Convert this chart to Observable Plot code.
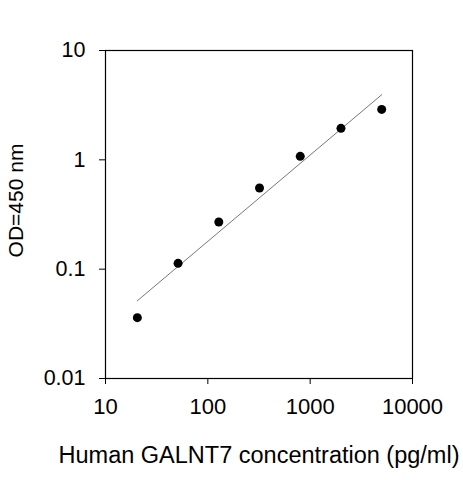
<!DOCTYPE html>
<html>
<head>
<meta charset="utf-8">
<script src="https://cdn.jsdelivr.net/npm/d3@7"></script>
<script src="https://cdn.jsdelivr.net/npm/@observablehq/plot@0.6"></script>
<style>
  body { margin: 0; background: #fff; }
  #plot svg { display: block; }
</style>
</head>
<body>
<div id="plot"></div>
<script>
// standard curve points (concentration pg/ml, OD 450 nm)
const conc = [20.48, 51.2, 128, 320, 800, 2000, 5000];
const od = [0.036, 0.113, 0.27, 0.553, 1.077, 1.94, 2.89];

// fitted line, drawn between its two end points
const fitConc = [20.48, 5000];
const fitOd = [0.0514, 3.94];

const xTicks = [10, 100, 1000, 10000];
const yTicks = [0.01, 0.1, 1, 10];

const points = conc.map((c, i) => ({c, od: od[i]}));
const fit = fitConc.map((c, i) => ({c, od: fitOd[i]}));

const font = "Arial, 'Liberation Sans', sans-serif";

const plot = Plot.plot({
  width: 463,
  height: 480,
  marginLeft: 105,
  marginRight: 51,
  marginTop: 50,
  marginBottom: 102,
  style: {background: "#fff", color: "#000", fontFamily: font, fontSize: "22px"},
  x: {type: "log", domain: [10, 10000]},
  y: {type: "log", domain: [0.01, 10]},
  marks: [
    Plot.frame({stroke: "#000", strokeWidth: 1.2}),
    Plot.axisX({ticks: xTicks, tickFormat: d => String(d), tickSize: 6, tickPadding: 14, label: null, fontSize: 22}),
    Plot.axisY({ticks: yTicks, tickFormat: d => String(d), tickSize: 6, tickPadding: 14, label: null, fontSize: 21.5}),
    Plot.text(["Human GALNT7 concentration (pg/ml)"], {frameAnchor: "bottom", lineAnchor: "middle", textAnchor: "middle", dy: 77, fontSize: 23.5, fill: "#000"}),
    Plot.text(["OD=450 nm"], {frameAnchor: "left", rotate: -90, lineAnchor: "middle", textAnchor: "middle", dx: -89, dy: -14, fontSize: 21, fill: "#000"}),
    Plot.line(fit, {x: "c", y: "od", stroke: "#777", strokeWidth: 1}),
    Plot.dot(points, {x: "c", y: "od", r: 4.5, fill: "#000", stroke: null})
  ]
});

document.getElementById("plot").appendChild(plot);
</script>
</body>
</html>
